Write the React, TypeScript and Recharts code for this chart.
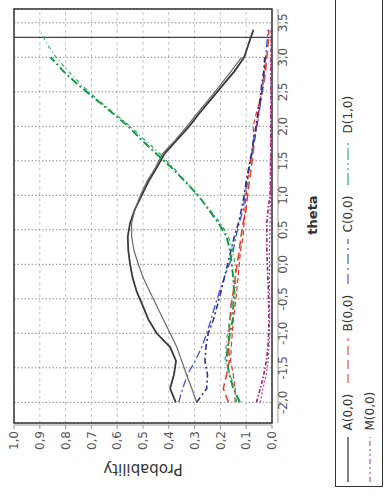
import React from 'react'
import { LineChart, Line, XAxis, YAxis, CartesianGrid, ReferenceArea, ReferenceLine } from 'recharts'

// theta grid and probability curves, two curves per response category
const theta = [-2.0, -1.8, -1.6, -1.4, -1.2, -1.0, -0.8, -0.6, -0.4, -0.2, 0, 0.2, 0.4, 0.6, 0.8, 1.0, 1.2, 1.4, 1.6, 1.8, 2.0, 2.2, 2.4, 2.6, 2.8, 3.0, 3.2, 3.4]

const a1 = [0.373, 0.395, 0.38, 0.372, 0.395, 0.447, 0.479, 0.501, 0.524, 0.54, 0.55, 0.557, 0.559, 0.55, 0.531, 0.505, 0.479, 0.447, 0.417, 0.369, 0.321, 0.279, 0.234, 0.19, 0.145, 0.108, 0.09, 0.072]
const a2 = [0.292, 0.311, 0.331, 0.35, 0.369, 0.395, 0.421, 0.447, 0.473, 0.499, 0.518, 0.535, 0.544, 0.544, 0.531, 0.51, 0.485, 0.452, 0.425, 0.375, 0.33, 0.287, 0.242, 0.2, 0.158, 0.118, null, null]
const b1 = [0.169, 0.189, 0.176, 0.165, 0.168, 0.167, 0.163, 0.159, 0.15, 0.143, 0.135, 0.127, 0.12, 0.112, 0.1, 0.095, 0.088, 0.08, 0.074, 0.068, 0.06, 0.052, 0.042, 0.033, 0.025, 0.02, 0.015, 0.012]
const b2 = [0.143, 0.143, 0.15, 0.16, 0.158, 0.154, 0.15, 0.143, 0.137, 0.132, 0.127, 0.122, 0.112, 0.108, 0.105, 0.1, 0.095, 0.088, 0.078, 0.07, 0.073, 0.06, 0.045, 0.035, 0.03, 0.025, null, null]
const c1 = [0.362, 0.346, 0.328, 0.298, 0.272, 0.253, 0.236, 0.221, 0.204, 0.186, 0.165, 0.15, 0.14, 0.127, 0.111, 0.105, 0.097, 0.088, 0.078, 0.068, 0.058, 0.05, 0.042, 0.036, 0.03, 0.025, 0.02, 0.015]
const c2 = [0.292, 0.253, 0.25, 0.26, 0.256, 0.247, 0.227, 0.212, 0.198, 0.185, 0.172, 0.159, 0.146, 0.13, 0.118, 0.108, 0.1, 0.09, 0.08, 0.072, 0.062, 0.054, 0.046, 0.04, 0.032, 0.028, null, null]
const d1 = [0.124, 0.15, 0.165, 0.176, 0.172, 0.163, 0.152, 0.15, 0.147, 0.15, 0.156, 0.163, 0.176, 0.208, 0.247, 0.286, 0.337, 0.389, 0.447, 0.505, 0.557, 0.621, 0.686, 0.751, 0.809, 0.858, null, null]
const d2 = [0.137, 0.143, 0.163, 0.182, 0.178, 0.173, 0.163, 0.15, 0.143, 0.14, 0.143, 0.152, 0.169, 0.2, 0.243, 0.29, 0.333, 0.383, 0.434, 0.492, 0.55, 0.615, 0.68, 0.738, 0.79, 0.837, 0.873, 0.902]
const m1 = [0.06, 0.045, 0.032, 0.022, 0.016, 0.013, 0.012, 0.013, 0.014, 0.016, 0.018, 0.02, 0.02, 0.02, 0.015, 0.008, 0.006, 0.006, 0.005, 0.005, 0.005, 0.005, 0.004, 0.004, 0.004, 0.004, 0.003, 0.003]
const m2 = [0.045, 0.035, 0.022, 0.015, 0.012, 0.01, 0.009, 0.009, 0.01, 0.01, 0.01, 0.01, 0.009, 0.008, 0.007, 0.006, 0.005, 0.005, 0.005, 0.004, 0.004, 0.004, 0.004, 0.004, 0.004, 0.004, null, null]

const thetaTicks = [-2.0, -1.5, -1.0, -0.5, 0, 0.5, 1.0, 1.5, 2.0, 2.5, 3.0, 3.5]
const probTicks = [0, 0.1, 0.2, 0.3, 0.4, 0.5, 0.6, 0.7, 0.8, 0.9, 1.0]
const legendRows = [['A(0,0)', 'B(0,0)', 'C(0,0)', 'D(1,0)'], ['M(0,0)']]

const data = theta.map((t, i) => ({
  theta: t, a1: a1[i], a2: a2[i], b1: b1[i], b2: b2[i], c1: c1[i], c2: c2[i], d1: d1[i], d2: d2[i], m1: m1[i], m2: m2[i],
}))

const series = [
  { key: 'a1', color: '#3a3a3a', width: 1.8, dash: undefined },
  { key: 'a2', color: '#6a6a6a', width: 1.2, dash: undefined },
  { key: 'b1', color: '#e0452a', width: 1.6, dash: '8 4' },
  { key: 'b2', color: '#e8322a', width: 1.2, dash: '5 3' },
  { key: 'c1', color: '#3d55c8', width: 1.3, dash: '8 3 2 3' },
  { key: 'c2', color: '#2e2e8e', width: 1.6, dash: '6 3 2 3' },
  { key: 'd1', color: '#139a4a', width: 2, dash: '8 3 2 3' },
  { key: 'd2', color: '#2fae5c', width: 1.2, dash: '4 3 1 3' },
  { key: 'm1', color: '#a0207a', width: 1.6, dash: '4 2 1.5 2' },
  { key: 'm2', color: '#c03a9a', width: 1.2, dash: '2 2' },
]

const legendStyle: Record<string, { color: string; dash?: string }> = {
  'A(0,0)': { color: '#333' },
  'B(0,0)': { color: '#e05050', dash: '9 5' },
  'C(0,0)': { color: '#4060c0', dash: '10 4 2 4' },
  'D(1,0)': { color: '#30b060', dash: '12 3 2 3 2 3' },
  'M(0,0)': { color: '#c050c0', dash: '5 3 2 3 2 3' },
}

const comma = (v: number) => v.toFixed(1).replace('.', ',')
const font = '"DejaVu Sans", sans-serif'

function LegendBox() {
  return (
    <div style={{ position: 'absolute', left: 14, top: 335, width: 520, height: 48, border: '1.5px solid #333', boxSizing: 'border-box', paddingTop: 1, paddingLeft: 3.5, fontFamily: font, fontSize: 12, color: '#333' }}>
      {legendRows.map((row, r) => (
        <div key={r} style={{ display: 'flex', height: 22, alignItems: 'center' }}>
          {row.map((name) => (
            <div key={name} style={{ width: 99, display: 'flex', alignItems: 'center' }}>
              <svg width={46} height={22}>
                <line x1={0} y1={11} x2={45} y2={11} stroke={legendStyle[name].color} strokeWidth={1.2} strokeDasharray={legendStyle[name].dash} />
              </svg>
              <span style={{ marginLeft: 6 }}>{name}</span>
            </div>
          ))}
        </div>
      ))}
    </div>
  )
}

export default function App() {
  return (
    <div style={{ position: 'absolute', left: 0, top: 0, width: 386, height: 501, overflow: 'hidden', background: '#fff' }}>
      <style>{`.recharts-xAxis { transform: translate(0px, 6px); } .recharts-yAxis { transform: translate(-2px, 0px); }`}</style>
      <div style={{ position: 'absolute', left: 0, top: 0, width: 501, height: 386, transformOrigin: '0 0', transform: 'translate(0px, 501px) rotate(-90deg)' }}>
        <LineChart width={501} height={386} data={data} margin={{ top: 14, right: 9, left: 18, bottom: 84 }} style={{ fontFamily: font }}>
          <CartesianGrid vertical={false} stroke="#c4c4c4" strokeDasharray="3 3" />
          <CartesianGrid horizontal={false} stroke="#8a8a8a" strokeDasharray="1.5 2" />
          <XAxis
            type="number" dataKey="theta" domain={[-2.3, 3.7]} ticks={thetaTicks} allowDataOverflow
            tickFormatter={comma} stroke="#999" tickSize={3} tickMargin={3}
            tick={{ fill: '#555', fontSize: 12 }} height={30}
            label={{
              content: (props: any) => {
                const vb = props.viewBox
                return <text x={vb.x + vb.width / 2 + 1} y={311} textAnchor="middle" fontWeight="bold" fontSize={13} fill="#333">theta</text>
              },
            }}
          />
          <YAxis
            type="number" domain={[0, 1]} ticks={probTicks} tickFormatter={comma} stroke="#999"
            tickSize={4} tickMargin={4} tick={{ fill: '#555', fontSize: 12 }} width={60}
            label={{
              content: (props: any) => {
                const vb = props.viewBox
                const cx = vb.x + 16
                const cy = vb.y + vb.height / 2
                return <text x={cx} y={cy} textAnchor="middle" dominantBaseline="central" fontSize={15} fill="#333" transform={`rotate(-90 ${cx} ${cy})`}>Probability</text>
              },
            }}
          />
          <ReferenceArea x1={-2.3} x2={3.7} y1={0} y2={1} fill="none" stroke="#333" strokeWidth={1.5} />
          <ReferenceLine x={3.29} stroke="#444" strokeWidth={1.3} />
          {series.map((s) => (
            <Line key={s.key} type="linear" dataKey={s.key} stroke={s.color} strokeWidth={s.width} strokeDasharray={s.dash} dot={false} isAnimationActive={false} connectNulls={false} />
          ))}
        </LineChart>
        <LegendBox />
      </div>
    </div>
  )
}
